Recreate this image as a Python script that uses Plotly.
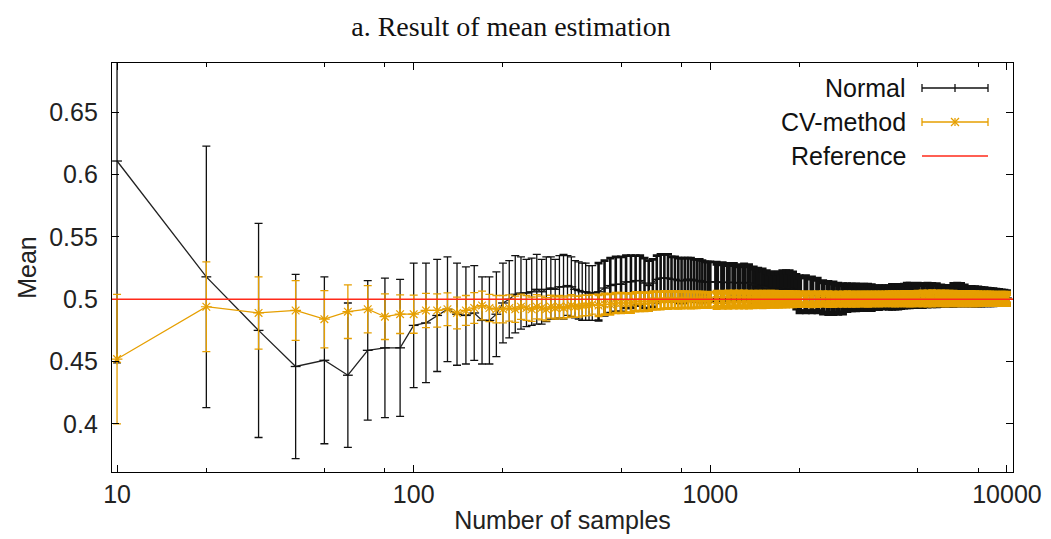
import plotly.graph_objects as go

# ---------------- text ----------------
title_text = "a. Result of mean estimation"
x_title = "Number of samples"
y_title = "Mean"
series_names = ["Normal", "CV-method", "Reference"]
reference_value = 0.5

x_tick_vals = [10, 100, 1000, 10000]
x_tick_text = ["10", "100", "1000", "10000"]
x_minor_vals = [20, 50, 80, 200, 500, 800, 2000, 5000, 8000]
y_tick_vals = [0.4, 0.45, 0.5, 0.55, 0.6, 0.65]
y_tick_text = ["0.4", "0.45", "0.5", "0.55", "0.6", "0.65"]

# ---------------- data ----------------
# segment A : sparse region
n_a = [10, 20, 30, 40, 50, 60, 70, 80, 90, 100, 110, 120, 130, 140, 150, 160, 170, 180, 190, 200,
       210, 220, 230, 240, 250, 260, 270, 280, 290, 300, 310, 320, 330, 340, 350, 360, 370, 380, 390, 400]
normal_mean_a = [0.611, 0.518, 0.475, 0.446, 0.451, 0.439, 0.459, 0.461, 0.461, 0.479, 0.481, 0.487, 0.492, 0.488,
                 0.487, 0.489, 0.483, 0.483, 0.488, 0.497, 0.500, 0.504, 0.505, 0.505, 0.506, 0.508, 0.506, 0.508,
                 0.509, 0.508, 0.510, 0.510, 0.511, 0.510, 0.508, 0.507, 0.506, 0.506, 0.505, 0.505]
normal_err_a = [0.162, 0.105, 0.086, 0.074, 0.067, 0.058, 0.056, 0.056, 0.055, 0.050, 0.048, 0.045, 0.042, 0.041,
                0.039, 0.038, 0.035, 0.035, 0.034, 0.032, 0.031, 0.031, 0.029, 0.027, 0.027, 0.028, 0.026, 0.026,
                0.025, 0.024, 0.025, 0.026, 0.024, 0.024, 0.023, 0.023, 0.023, 0.023, 0.022, 0.022]
cv_mean_a = [0.452, 0.494, 0.489, 0.491, 0.484, 0.490, 0.492, 0.486, 0.488, 0.488, 0.491, 0.491, 0.492, 0.489,
             0.491, 0.493, 0.495, 0.493, 0.492, 0.492, 0.493, 0.492, 0.494, 0.493, 0.492, 0.494, 0.493, 0.492,
             0.494, 0.493, 0.494, 0.493, 0.494, 0.495, 0.494, 0.494, 0.495, 0.495, 0.495, 0.496]
cv_err_a = [0.052, 0.036, 0.029, 0.024, 0.023, 0.0215, 0.019, 0.0183, 0.0155, 0.0153, 0.0138, 0.0134, 0.0131,
            0.0127, 0.012, 0.0124, 0.0115, 0.011, 0.011, 0.011, 0.0105, 0.0105, 0.0102, 0.010, 0.0098, 0.0097,
            0.0095, 0.0093, 0.0092, 0.009, 0.009, 0.0088, 0.0087, 0.0086, 0.0085, 0.0084, 0.0083, 0.0082,
            0.0081, 0.008]

# segment B
n_b = [420, 440, 460, 480, 500, 520, 540, 560, 580, 600, 620, 640, 660, 680, 700, 720, 740, 760, 780, 800,
       820, 840, 860, 880, 900, 920, 940, 960, 980, 1000]
normal_mean_b = [0.506, 0.509, 0.511, 0.512, 0.512, 0.514, 0.514, 0.515, 0.515, 0.513, 0.511, 0.513, 0.516, 0.517,
                 0.517, 0.517, 0.516, 0.516, 0.515, 0.515, 0.515, 0.516, 0.516, 0.515, 0.515, 0.515, 0.514, 0.514,
                 0.514, 0.514]
normal_err_b = [0.023, 0.022, 0.022, 0.022, 0.022, 0.021, 0.021, 0.020, 0.020, 0.020, 0.020, 0.019, 0.019, 0.019,
                0.019, 0.019, 0.018, 0.018, 0.018, 0.018, 0.018, 0.017, 0.017, 0.017, 0.017, 0.017, 0.017, 0.016,
                0.016, 0.016]
cv_mean_b = [0.495, 0.496, 0.496, 0.497, 0.497, 0.497, 0.497, 0.498, 0.498, 0.498, 0.498, 0.499, 0.499, 0.499,
             0.4995, 0.4993, 0.4996, 0.4995, 0.4994, 0.4995, 0.4996, 0.4995, 0.4994, 0.4995, 0.4995, 0.4996,
             0.4995, 0.4994, 0.4995, 0.4995]
cv_err_b = [0.0085, 0.0083, 0.0082, 0.008, 0.008, 0.0078, 0.0077, 0.0075, 0.0074, 0.0073, 0.0072, 0.0071, 0.007,
            0.007, 0.0069, 0.0068, 0.0068, 0.0067, 0.0067, 0.0066, 0.0066, 0.0065, 0.0065, 0.0064, 0.0064,
            0.0063, 0.0063, 0.0062, 0.0062, 0.0061]

# segment C
n_c = [1050, 1100, 1150, 1200, 1250, 1300, 1350, 1400, 1450, 1500, 1550, 1600, 1650, 1700, 1750, 1800, 1850,
       1900, 1950, 2000]
normal_mean_c = [0.514, 0.5135, 0.5135, 0.5135, 0.513, 0.5135, 0.513, 0.5115, 0.511, 0.5105, 0.509, 0.508, 0.508,
                 0.508, 0.509, 0.509, 0.509, 0.508, 0.506, 0.504]
normal_err_c = [0.015, 0.015, 0.0145, 0.0145, 0.014, 0.014, 0.014, 0.0135, 0.013, 0.013, 0.013, 0.013, 0.013,
                0.013, 0.013, 0.013, 0.013, 0.013, 0.013, 0.014]
cv_mean_c = [0.4995, 0.4996, 0.4997, 0.4998, 0.4998, 0.4998, 0.4997, 0.4998, 0.4999, 0.4998, 0.4999, 0.5, 0.5,
             0.4999, 0.5, 0.5, 0.5001, 0.5, 0.5001, 0.5001]
cv_err_c = [0.0062, 0.0061, 0.0061, 0.006, 0.006, 0.006, 0.0059, 0.0059, 0.0058, 0.0058, 0.0057, 0.0057, 0.0056,
            0.0056, 0.0055, 0.0055, 0.0054, 0.0053, 0.0052, 0.0052]

# segment D
n_d = [2100, 2200, 2300, 2400, 2500, 2600, 2700, 2800, 2900, 3000, 3100, 3200, 3300, 3400, 3500, 3600, 3700,
       3800, 3900, 4000, 4100, 4200, 4300, 4400, 4500, 4600, 4700, 4800, 4900, 5000]
normal_mean_d = [0.504, 0.5035, 0.503, 0.5015, 0.501, 0.5008, 0.5004, 0.5003, 0.5013, 0.5015, 0.5015, 0.5015,
                 0.5015, 0.5015, 0.5013, 0.5013, 0.5013, 0.5015, 0.5018, 0.5014, 0.5019, 0.502, 0.502, 0.5022,
                 0.5025, 0.503, 0.503, 0.503, 0.503, 0.5032]
normal_err_d = [0.014, 0.0135, 0.013, 0.0125, 0.0124, 0.0122, 0.0116, 0.0113, 0.0103, 0.010, 0.010, 0.0098,
                0.0098, 0.0097, 0.0096, 0.0088, 0.0087, 0.0085, 0.0083, 0.0086, 0.0091, 0.009, 0.009, 0.0088,
                0.0087, 0.009, 0.009, 0.0088, 0.0088, 0.0088]
cv_mean_d = [0.5001, 0.5, 0.5001, 0.5002, 0.5001, 0.5, 0.5001, 0.5001, 0.5002, 0.5001, 0.5001, 0.5002, 0.5002,
             0.5001, 0.5002, 0.5003, 0.5002, 0.5003, 0.5003, 0.5004, 0.5004, 0.5003, 0.5004, 0.5004, 0.5005,
             0.5005, 0.5004, 0.5005, 0.5005, 0.5006]
cv_err_d = [0.0052, 0.0052, 0.0051, 0.0051, 0.0051, 0.005, 0.005, 0.005, 0.005, 0.0049, 0.0049, 0.0049, 0.0049,
            0.0049, 0.0048, 0.0048, 0.0048, 0.0048, 0.0048, 0.0048, 0.0048, 0.0049, 0.0049, 0.0049, 0.005,
            0.005, 0.005, 0.005, 0.005, 0.005]

# segment E
n_e = [5200, 5400, 5600, 5800, 6000, 6200, 6400, 6600, 6800, 7000, 7200, 7400, 7600, 7800, 8000, 8200, 8400,
       8600, 8800, 9000, 9200, 9400, 9600, 9800, 10000]
normal_mean_e = [0.503, 0.5033, 0.5033, 0.5032, 0.5028, 0.5027, 0.5027, 0.5035, 0.5037, 0.5037, 0.503, 0.5025,
                 0.5024, 0.5023, 0.5022, 0.502, 0.502, 0.5018, 0.5017, 0.5016, 0.5015, 0.5014, 0.5013, 0.5012,
                 0.501]
normal_err_e = [0.0088, 0.0087, 0.0086, 0.0085, 0.0078, 0.0075, 0.0075, 0.0083, 0.0083, 0.0082, 0.0076, 0.007,
                0.007, 0.007, 0.0068, 0.0066, 0.0064, 0.0063, 0.0062, 0.0061, 0.0058, 0.0056, 0.0054, 0.0052,
                0.005]
cv_mean_e = [0.5006, 0.5006, 0.5007, 0.5007, 0.5007, 0.5006, 0.5006, 0.5006, 0.5005, 0.5005, 0.5005, 0.5005,
             0.5005, 0.5004, 0.5004, 0.5004, 0.5004, 0.5004, 0.5004, 0.5003, 0.5003, 0.5003, 0.5003, 0.5003,
             0.5003]
cv_err_e = [0.0053, 0.0053, 0.0053, 0.0052, 0.0052, 0.0052, 0.0051, 0.0051, 0.005, 0.005, 0.005, 0.0049, 0.0049,
            0.0048, 0.0048, 0.0047, 0.0047, 0.0047, 0.0046, 0.0046, 0.0046, 0.0045, 0.0045, 0.0045, 0.0045]

# ---------------- styles ----------------
BLACK = "#111111"
ORANGE = "#E69F00"
RED = "#FF2A1A"
FONT = "Liberation Sans, Arial, sans-serif"
SERIF = "Liberation Serif, Times New Roman, serif"

PAGE_OFF = 8  # default body margin of the html page
W, H = 1051 - PAGE_OFF, 539 - PAGE_OFF
ML, MR, MT, MB = 104, 38, 55, 67
PW, PH = W - ML - MR, H - MT - MB

def px_x(px):  # page pixel -> paper
    return (px - PAGE_OFF - ML) / PW

def px_y(py):
    return (H - MB - (py - PAGE_OFF)) / PH

segments = [
    (n_a, normal_mean_a, normal_err_a, cv_mean_a, cv_err_a),
    (n_b, normal_mean_b, normal_err_b, cv_mean_b, cv_err_b),
    (n_c, normal_mean_c, normal_err_c, cv_mean_c, cv_err_c),
    (n_d, normal_mean_d, normal_err_d, cv_mean_d, cv_err_d),
    (n_e, normal_mean_e, normal_err_e, cv_mean_e, cv_err_e),
]
seg_thickness = [1.3, 2.6, 5, 5, 5]

all_n = n_a + n_b + n_c + n_d + n_e
all_normal = normal_mean_a + normal_mean_b + normal_mean_c + normal_mean_d + normal_mean_e
all_cv = cv_mean_a + cv_mean_b + cv_mean_c + cv_mean_d + cv_mean_e

fig = go.Figure()

# Normal error bars
for (n, nm, ne, cm, ce), th in zip(segments, seg_thickness):
    fig.add_trace(go.Scatter(
        x=n, y=nm, mode="markers", showlegend=False, hoverinfo="skip",
        marker=dict(size=1, color=BLACK),
        error_y=dict(type="data", array=ne, visible=True, color=BLACK, thickness=th, width=4),
    ))
# Normal mean line
fig.add_trace(go.Scatter(
    x=all_n, y=all_normal, mode="lines+markers", name=series_names[0], showlegend=False,
    line=dict(color="#222222", width=1.3),
    marker=dict(symbol="line-ew", size=7, line=dict(color=BLACK, width=1.3)),
))
# CV error bars
for (n, nm, ne, cm, ce), th in zip(segments, seg_thickness):
    fig.add_trace(go.Scatter(
        x=n, y=cm, mode="markers", showlegend=False, hoverinfo="skip",
        marker=dict(size=1, color=ORANGE),
        error_y=dict(type="data", array=ce, visible=True, color=ORANGE, thickness=th, width=4),
    ))
# CV mean line + asterisk markers
fig.add_trace(go.Scatter(
    x=all_n, y=all_cv, mode="lines+markers", name=series_names[1], showlegend=False,
    line=dict(color=ORANGE, width=1.2),
    marker=dict(symbol="asterisk-open", size=9, color=ORANGE, line=dict(color=ORANGE, width=1.2)),
))

shapes = []
# reference line
shapes.append(dict(type="line", xref="paper", x0=0, x1=1, yref="y", y0=reference_value, y1=reference_value,
                   line=dict(color=RED, width=1.5), layer="above"))

# manual legend (text on the left, sample on the right, as in the original)
leg_rows_py = [88, 122, 156]
leg_text_right = 908
leg_x0, leg_x1, leg_xc = 922, 988, 955
cap = 4
annotations = []
for i, (name, py) in enumerate(zip(series_names, leg_rows_py)):
    annotations.append(dict(xref="paper", yref="paper", x=px_x(leg_text_right), y=px_y(py),
                            text=name, showarrow=False, xanchor="right", yanchor="middle",
                            font=dict(family=FONT, size=25, color="#111111")))
    col = [BLACK, ORANGE, RED][i]
    shapes.append(dict(type="line", xref="paper", yref="paper", x0=px_x(leg_x0), x1=px_x(leg_x1),
                       y0=px_y(py), y1=px_y(py), line=dict(color=col, width=1.3)))
    if i < 2:
        for xx in (leg_x0, leg_x1, leg_xc):
            shapes.append(dict(type="line", xref="paper", yref="paper", x0=px_x(xx), x1=px_x(xx),
                               y0=px_y(py - cap), y1=px_y(py + cap), line=dict(color=col, width=1.3)))
    if i == 1:
        for dx in (-cap, cap):
            shapes.append(dict(type="line", xref="paper", yref="paper", x0=px_x(leg_xc - dx), x1=px_x(leg_xc + dx),
                               y0=px_y(py - cap), y1=px_y(py + cap), line=dict(color=col, width=1.3)))

fig.update_layout(
    width=W, height=H,
    margin=dict(l=ML, r=MR, t=MT, b=MB, autoexpand=False),
    paper_bgcolor="white", plot_bgcolor="white",
    showlegend=False,
    title=dict(text=title_text, x=(511 - PAGE_OFF) / W, xanchor="center", y=1 - 18 / H, yanchor="middle",
               font=dict(family=SERIF, size=28, color="#111111")),
    shapes=shapes,
    annotations=annotations,
    font=dict(family=FONT, size=25, color="#222222"),
)

fig.update_xaxes(
    type="log", range=[0.983, 4.0204], automargin=False,
    tickvals=x_tick_vals, ticktext=x_tick_text,
    ticks="inside", ticklen=7, tickwidth=1.2, tickcolor="black",
    minor=dict(tickvals=x_minor_vals, ticks="inside", ticklen=4, tickwidth=1.2, tickcolor="black"),
    showline=True, linecolor="black", linewidth=1.3, mirror="ticks",
    showgrid=False, zeroline=False,
    tickfont=dict(family=FONT, size=25, color="#222222"),
    title=dict(text=x_title, font=dict(family=FONT, size=25, color="#222222"), standoff=4),
)
fig.update_yaxes(
    range=[0.3613, 0.6897], automargin=False,
    tickvals=y_tick_vals, ticktext=y_tick_text,
    ticks="inside", ticklen=7, tickwidth=1.2, tickcolor="black",
    showline=True, linecolor="black", linewidth=1.3, mirror="ticks",
    showgrid=False, zeroline=False,
    ticklabelstandoff=8,
    tickfont=dict(family=FONT, size=25, color="#222222"),
    title=dict(text=y_title, font=dict(family=FONT, size=25, color="#222222"), standoff=5),
)

fig.write_html("out.html", config={"displayModeBar": False})
